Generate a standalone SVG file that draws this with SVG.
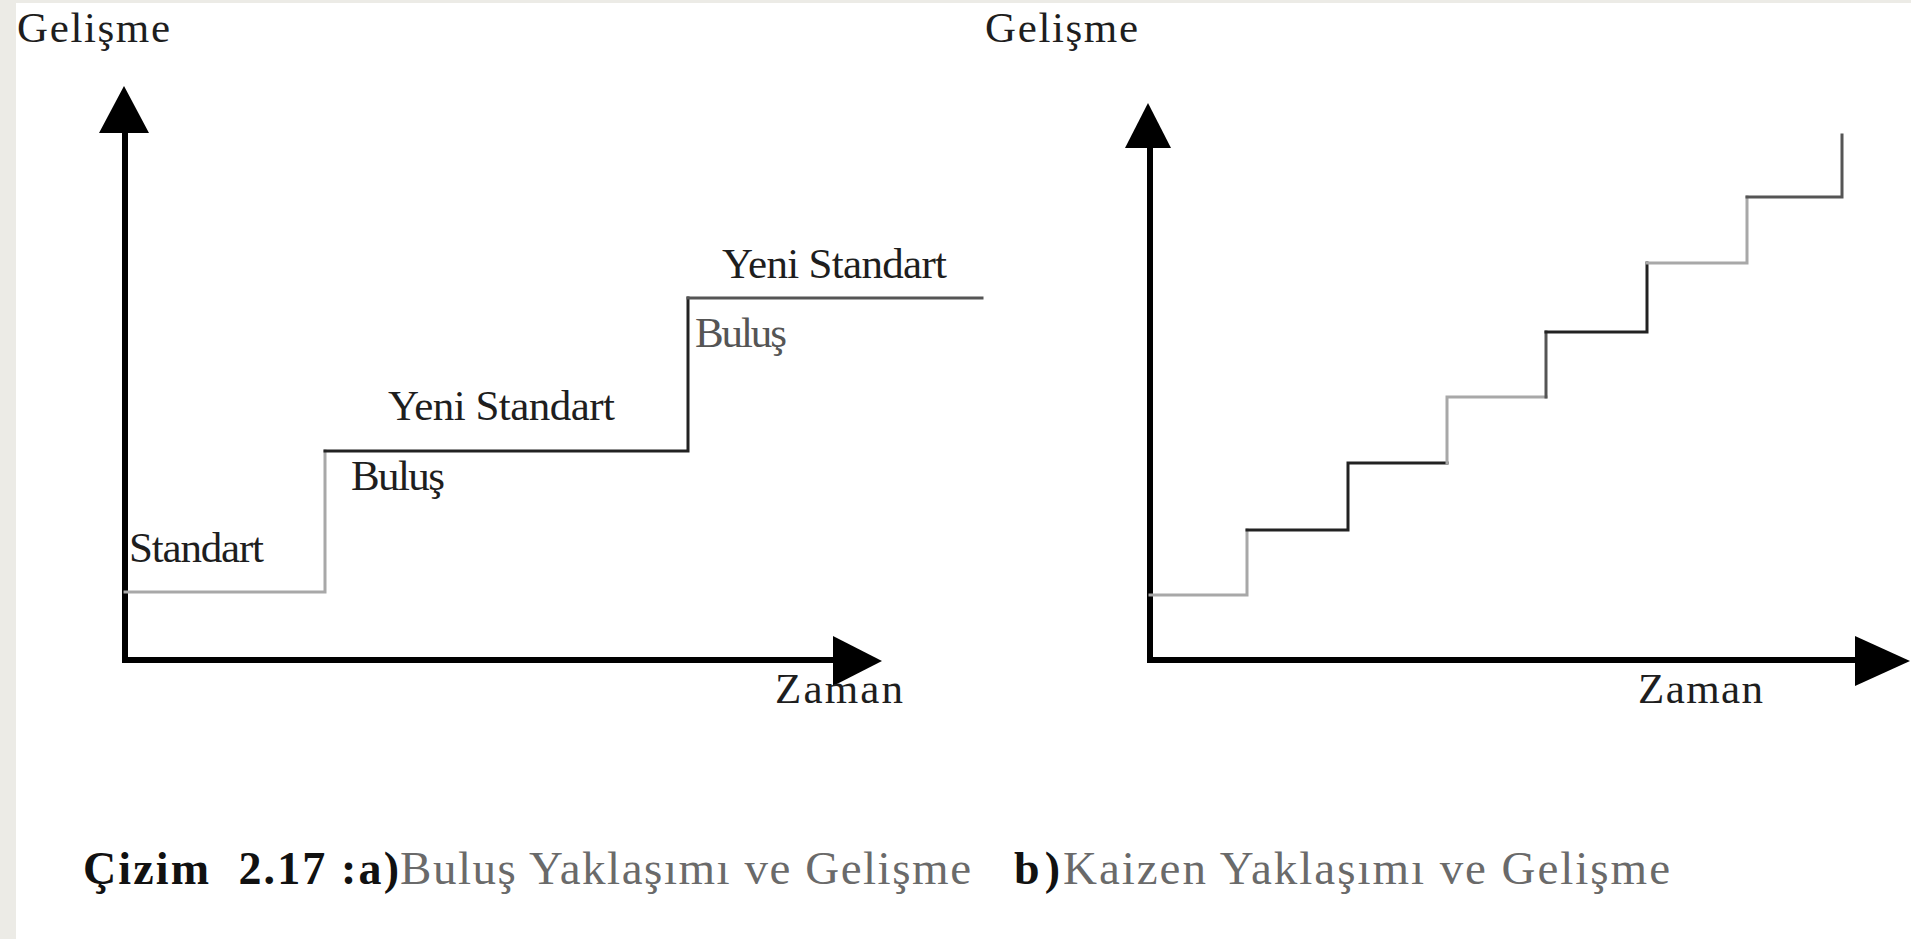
<svg xmlns="http://www.w3.org/2000/svg" width="1911" height="939" viewBox="0 0 1911 939">
  <style>
    .lbl { font-family: "Liberation Serif", "Times New Roman", serif; font-size: 43px; fill: #1e1e1e; }
    .soft { fill: #555; }
    .cap { font-family: "Liberation Serif", "Times New Roman", serif; font-size: 47px; fill: #6a6a6a; }
    .capb { font-family: "Liberation Serif", "Times New Roman", serif; font-size: 46px; font-weight: bold; fill: #111; }
    .axis { stroke: #000; stroke-width: 6; fill: none; }
    .head { fill: #000; }
    .step { stroke-width: 3; fill: none; stroke-linecap: square; }
    .lt { stroke: #a8a8a8; }
    .md { stroke: #555; }
    .dk { stroke: #222; }
  </style>

  <!-- page background with margin -->
  <rect x="0" y="0" width="1911" height="939" fill="#ecebe6"/>
  <rect x="16" y="3" width="1895" height="936" fill="#ffffff"/>

  <!-- a) breakthrough approach -->
  <g id="chart-a">
    <g id="axes-a">
      <line class="axis" x1="125" y1="128" x2="125" y2="663"/>
      <polygon class="head" points="124,86 99,133 149,133"/>
      <line class="axis" x1="122" y1="660" x2="838" y2="660"/>
      <polygon class="head" points="882,661 833,636 833,686"/>
    </g>
    <g id="steps-a">
      <polyline class="step lt" points="125,592 325,592 325,451"/>
      <polyline class="step dk" points="325,451 688,451 688,298"/>
      <line class="step md" x1="688" y1="298" x2="982" y2="298"/>
    </g>
    <text class="lbl" x="17" y="42" textLength="153" lengthAdjust="spacing">Gelişme</text>
    <text class="lbl" x="129" y="562" textLength="135" lengthAdjust="spacing">Standart</text>
    <text class="lbl" x="351" y="490" textLength="94" lengthAdjust="spacing">Buluş</text>
    <text class="lbl" x="388" y="420" textLength="227" lengthAdjust="spacing">Yeni Standart</text>
    <text class="lbl" x="722" y="278" textLength="225" lengthAdjust="spacing">Yeni Standart</text>
    <text class="lbl soft" x="695" y="347" textLength="92" lengthAdjust="spacing">Buluş</text>
    <text class="lbl" x="775" y="703" textLength="128" lengthAdjust="spacing">Zaman</text>
  </g>

  <!-- b) kaizen approach -->
  <g id="chart-b">
    <g id="axes-b">
      <line class="axis" x1="1150" y1="143" x2="1150" y2="663"/>
      <polygon class="head" points="1148,103 1125,148 1171,148"/>
      <line class="axis" x1="1147" y1="660" x2="1860" y2="660"/>
      <polygon class="head" points="1910,661 1855,636 1855,686"/>
    </g>
    <g id="steps-b">
      <polyline class="step lt" points="1150,595 1247,595 1247,530"/>
      <polyline class="step dk" points="1247,530 1348,530 1348,463 1447,463"/>
      <polyline class="step lt" points="1447,463 1447,397 1546,397"/>
      <line class="step md" x1="1546" y1="397" x2="1546" y2="332"/>
      <polyline class="step dk" points="1546,332 1647,332 1647,263"/>
      <polyline class="step lt" points="1647,263 1747,263 1747,197"/>
      <polyline class="step md" points="1747,197 1842,197 1842,135"/>
    </g>
    <text class="lbl" x="985" y="42" textLength="153" lengthAdjust="spacing">Gelişme</text>
    <text class="lbl" x="1638" y="703" textLength="125" lengthAdjust="spacing">Zaman</text>
  </g>

  <!-- figure caption -->
  <g id="caption">
    <text class="capb" x="83" y="884" textLength="316" lengthAdjust="spacing">Çizim&#160; 2.17 :a)</text>
    <text class="cap" x="400" y="884" textLength="571" lengthAdjust="spacing">Buluş Yaklaşımı ve Gelişme</text>
    <text class="capb" x="1014" y="884" textLength="46" lengthAdjust="spacing">b)</text>
    <text class="cap" x="1063" y="884" textLength="607" lengthAdjust="spacing">Kaizen Yaklaşımı ve Gelişme</text>
  </g>
</svg>
